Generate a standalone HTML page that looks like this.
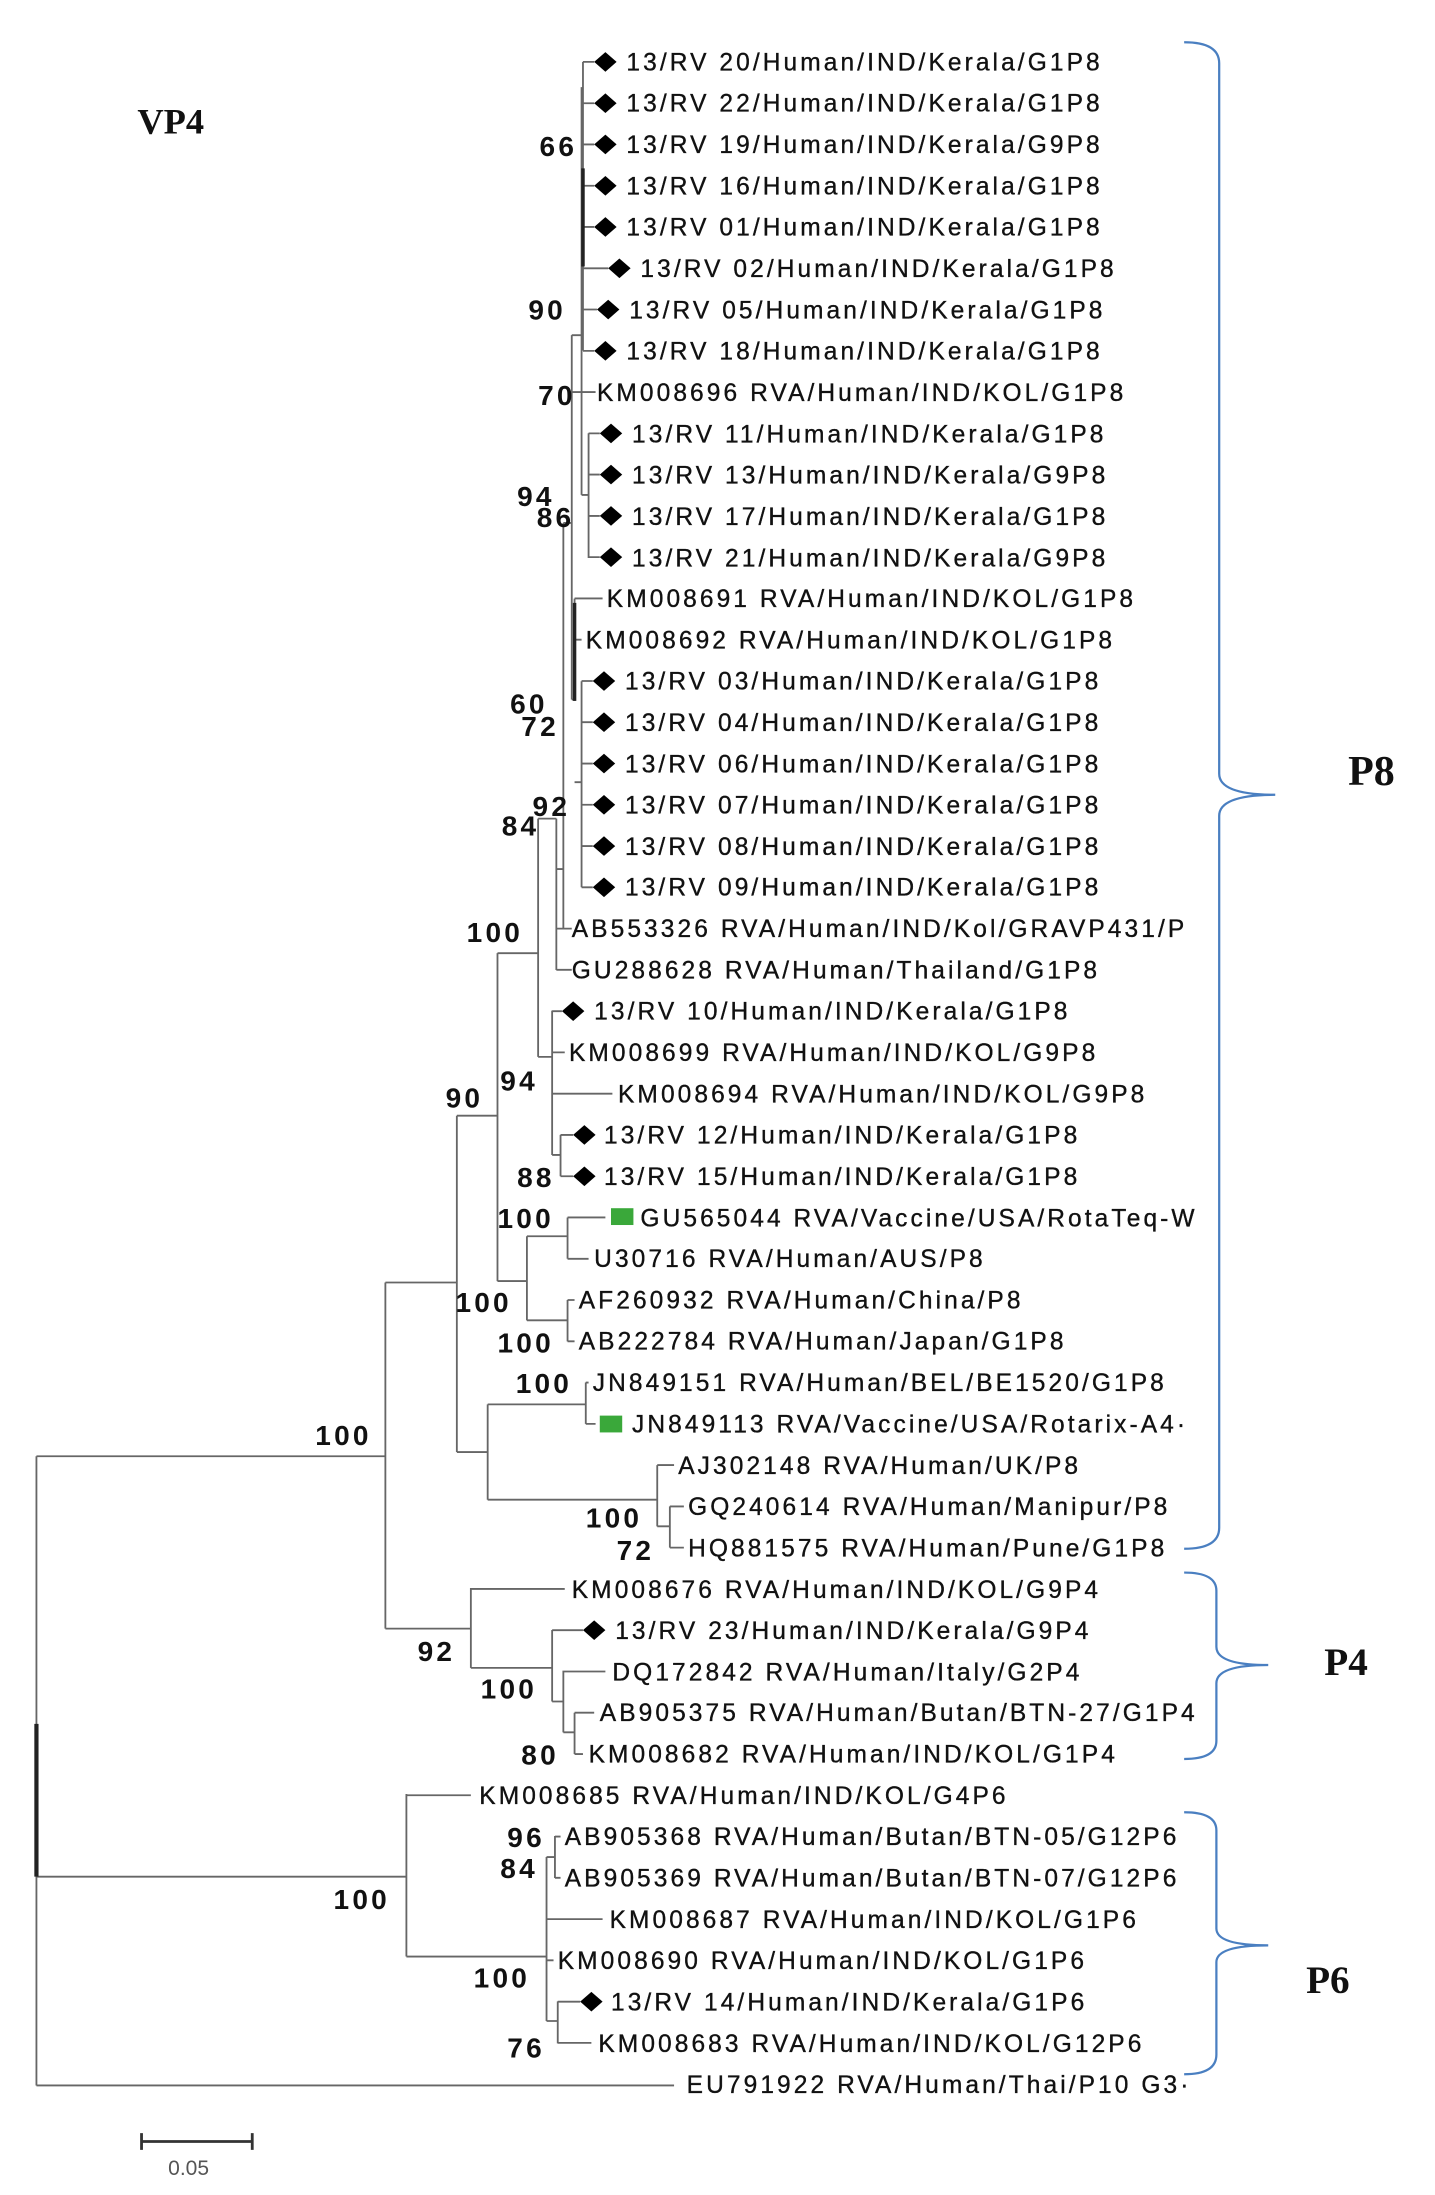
<!DOCTYPE html>
<html><head><meta charset="utf-8"><style>
html,body{margin:0;padding:0;background:#fff}
svg{display:block}
.t{font-family:"Liberation Sans",sans-serif;font-size:17.5px;letter-spacing:2.2px;fill:#111;stroke:#111;stroke-width:0.25}
.b{font-family:"Liberation Sans",sans-serif;font-size:20px;font-weight:bold;fill:#111;letter-spacing:2.3px}
.L{font-family:"Liberation Serif",serif;font-weight:bold;fill:#111}
</style></head><body>
<svg width="1435" height="2195" viewBox="0 0 1024 1566" xmlns="http://www.w3.org/2000/svg">
<defs><path id="d" d="M-8 0L0-7L8 0L0 7Z" fill="#000"/></defs>
<g stroke="#666" stroke-width="1.3" fill="none">
<path d="M26 1039V1488M26 1039H275M26 1339H290M26 1488H481"/>
<path d="M26 1230V1339" stroke="#222" stroke-width="3"/>
<path d="M275 915V1162M275 915H326M275 1162H336"/>
<path d="M326 796V1036M326 796H355M326 1036H348"/>
<path d="M355 680V914M355 680H384M355 914H376"/>
<path d="M376 882V942M376 882H405M376 942H405M405 868.6V898.1M405 868.6H432M405 898.1H420M405 927.5V957M405 927.5H410M405 957H410"/>
<path d="M348 1002V1070M348 1002H418M348 1070H469M418 986.4V1015.9M418 986.4H420M418 1015.9H425M469 1045.3V1089M469 1045.3H481M469 1089H478M478 1074.8V1104.2M478 1074.8H488M478 1104.2H488"/>
<path d="M384 584V754M384 584H397M384 754H394"/>
<path d="M397 584V692M397 662.5H408M397 691.9H408M397 620H402"/>
<path d="M402 373V663M402 373H408"/>
<path d="M408 239V499M408 239H415M408 279.6H425M408 499H410"/>
<path d="M415 62V353M415 353H420"/>
<path d="M416 44V250M416 44H424M416 73.5H424M416 102.9H424M416 132.4H424M416 161.8H424M416 191.3H434M416 220.7H426M416 250.2H424"/>
<path d="M416 120V190" stroke="#222" stroke-width="2.5"/>
<path d="M420 309V398M420 309.1H428M420 338.5H428M420 368H428M420 397.4H428"/>
<path d="M410 427V500M410 426.9H430M410 456.3H415M410 558H415"/>
<path d="M410 430V500" stroke="#222" stroke-width="2.5"/>
<path d="M415 486V633M415 485.8H423M415 515.2H423M415 544.7H423M415 574.1H423M415 603.6H423M415 633H423"/>
<path d="M394 721V824M394 721.4H401M394 750.8H403M394 780.3H437M394 824H400M400 809.7V839.2M400 809.7H409M400 839.2H409"/>
<path d="M336 1133V1190M336 1133.7H403M336 1190H394M394 1163V1214M394 1163.1H416M394 1214H402M402 1192V1236M402 1192.6H432M402 1236H410M410 1222V1251.5M410 1222H424M410 1251.5H416"/>
<path d="M290 1280V1396M290 1280.9H336M290 1396H390M390 1325V1442M390 1325H396M390 1398.7H395M390 1369.3H430M390 1442H398M396 1310V1340M396 1310.4H400M396 1339.8H400M398 1428V1458M398 1428.2H414M398 1457.6H422"/>
<path d="M101 1528H180M101 1522V1534M180 1522V1534" stroke="#333" stroke-width="2"/>
</g>
<g stroke="#4a7fc1" stroke-width="1.6" fill="none">
<path d="M845 30Q870 30 870 45V552Q870 567 910 567Q870 567 870 582V1090Q870 1105 845 1105"/>
<path d="M845 1122Q868 1122 868 1135V1175Q868 1188 905 1188Q868 1188 868 1201V1242Q868 1255 845 1255"/>
<path d="M845 1293Q868 1293 868 1306V1376Q868 1388 905 1388Q868 1388 868 1400V1466Q868 1480 845 1480"/>
</g>
<text class="L" x="98" y="95" font-size="26">VP4</text>
<text class="L" x="962" y="560" font-size="30">P8</text>
<text class="L" x="945" y="1195" font-size="28">P4</text>
<text class="L" x="932" y="1422" font-size="28">P6</text>
<text x="120" y="1552" font-family="Liberation Sans,sans-serif" font-size="15" fill="#555">0.05</text>
<use href="#d" x="432" y="44"/><use href="#d" x="432" y="73.5"/><use href="#d" x="432" y="102.9"/><use href="#d" x="432" y="132.4"/><use href="#d" x="432" y="161.8"/><use href="#d" x="442" y="191.3"/><use href="#d" x="434" y="220.7"/><use href="#d" x="432" y="250.2"/>
<use href="#d" x="436" y="309.1"/><use href="#d" x="436" y="338.5"/><use href="#d" x="436" y="368"/><use href="#d" x="436" y="397.4"/>
<use href="#d" x="431" y="485.8"/><use href="#d" x="431" y="515.2"/><use href="#d" x="431" y="544.7"/><use href="#d" x="431" y="574.1"/><use href="#d" x="431" y="603.6"/><use href="#d" x="431" y="633"/>
<use href="#d" x="409" y="721.4"/><use href="#d" x="417" y="809.7"/><use href="#d" x="417" y="839.2"/>
<use href="#d" x="424" y="1163.1"/><use href="#d" x="422" y="1428.2"/>
<rect x="436" y="862" width="16" height="12" fill="#3aa83a"/>
<rect x="428" y="1010" width="16" height="12" fill="#3aa83a"/>
<g class="t">
<text x="447" y="50">13/RV 20/Human/IND/Kerala/G1P8</text>
<text x="447" y="79.5">13/RV 22/Human/IND/Kerala/G1P8</text>
<text x="447" y="109">13/RV 19/Human/IND/Kerala/G9P8</text>
<text x="447" y="138.5">13/RV 16/Human/IND/Kerala/G1P8</text>
<text x="447" y="168">13/RV 01/Human/IND/Kerala/G1P8</text>
<text x="457" y="197.5">13/RV 02/Human/IND/Kerala/G1P8</text>
<text x="449" y="227">13/RV 05/Human/IND/Kerala/G1P8</text>
<text x="447" y="256.5">13/RV 18/Human/IND/Kerala/G1P8</text>
<text x="426" y="286">KM008696 RVA/Human/IND/KOL/G1P8</text>
<text x="451" y="315.5">13/RV 11/Human/IND/Kerala/G1P8</text>
<text x="451" y="345">13/RV 13/Human/IND/Kerala/G9P8</text>
<text x="451" y="374.5">13/RV 17/Human/IND/Kerala/G1P8</text>
<text x="451" y="404">13/RV 21/Human/IND/Kerala/G9P8</text>
<text x="433" y="433">KM008691 RVA/Human/IND/KOL/G1P8</text>
<text x="418" y="462.5">KM008692 RVA/Human/IND/KOL/G1P8</text>
<text x="446" y="492">13/RV 03/Human/IND/Kerala/G1P8</text>
<text x="446" y="521.5">13/RV 04/Human/IND/Kerala/G1P8</text>
<text x="446" y="551">13/RV 06/Human/IND/Kerala/G1P8</text>
<text x="446" y="580.5">13/RV 07/Human/IND/Kerala/G1P8</text>
<text x="446" y="610">13/RV 08/Human/IND/Kerala/G1P8</text>
<text x="446" y="639">13/RV 09/Human/IND/Kerala/G1P8</text>
<text x="408" y="668.5">AB553326 RVA/Human/IND/Kol/GRAVP431/P</text>
<text x="408" y="698">GU288628 RVA/Human/Thailand/G1P8</text>
<text x="424" y="727.5">13/RV 10/Human/IND/Kerala/G1P8</text>
<text x="406" y="757">KM008699 RVA/Human/IND/KOL/G9P8</text>
<text x="441" y="786.5">KM008694 RVA/Human/IND/KOL/G9P8</text>
<text x="431" y="816">13/RV 12/Human/IND/Kerala/G1P8</text>
<text x="431" y="845.5">13/RV 15/Human/IND/Kerala/G1P8</text>
<text x="457" y="875">GU565044 RVA/Vaccine/USA/RotaTeq-W</text>
<text x="424" y="904">U30716 RVA/Human/AUS/P8</text>
<text x="413" y="933.5">AF260932 RVA/Human/China/P8</text>
<text x="413" y="963">AB222784 RVA/Human/Japan/G1P8</text>
<text x="423" y="992.5">JN849151 RVA/Human/BEL/BE1520/G1P8</text>
<text x="451" y="1022">JN849113 RVA/Vaccine/USA/Rotarix-A4·</text>
<text x="484" y="1051.5">AJ302148 RVA/Human/UK/P8</text>
<text x="491" y="1081">GQ240614 RVA/Human/Manipur/P8</text>
<text x="491" y="1110.5">HQ881575 RVA/Human/Pune/G1P8</text>
<text x="408" y="1140">KM008676 RVA/Human/IND/KOL/G9P4</text>
<text x="439" y="1169.5">13/RV 23/Human/IND/Kerala/G9P4</text>
<text x="437" y="1199">DQ172842 RVA/Human/Italy/G2P4</text>
<text x="428" y="1228">AB905375 RVA/Human/Butan/BTN-27/G1P4</text>
<text x="420" y="1257.5">KM008682 RVA/Human/IND/KOL/G1P4</text>
<text x="342" y="1287">KM008685 RVA/Human/IND/KOL/G4P6</text>
<text x="403" y="1316.5">AB905368 RVA/Human/Butan/BTN-05/G12P6</text>
<text x="403" y="1346">AB905369 RVA/Human/Butan/BTN-07/G12P6</text>
<text x="435" y="1375.5">KM008687 RVA/Human/IND/KOL/G1P6</text>
<text x="398" y="1405">KM008690 RVA/Human/IND/KOL/G1P6</text>
<text x="436" y="1434.5">13/RV 14/Human/IND/Kerala/G1P6</text>
<text x="427" y="1464">KM008683 RVA/Human/IND/KOL/G12P6</text>
<text x="490" y="1493.5">EU791922 RVA/Human/Thai/P10 G3·</text>
</g>
<g class="b">
<text x="385" y="111">66</text>
<text x="377" y="228">90</text>
<text x="384" y="289">70</text>
<text x="369" y="361">94</text>
<text x="383" y="376">86</text>
<text x="364" y="509">60</text>
<text x="372" y="525">72</text>
<text x="380" y="582">92</text>
<text x="358" y="596">84</text>
<text x="333" y="672">100</text>
<text x="357" y="778">94</text>
<text x="318" y="790">90</text>
<text x="369" y="847">88</text>
<text x="355" y="876">100</text>
<text x="325" y="936">100</text>
<text x="355" y="965">100</text>
<text x="368" y="994">100</text>
<text x="225" y="1031">100</text>
<text x="418" y="1090">100</text>
<text x="440" y="1113">72</text>
<text x="298" y="1185">92</text>
<text x="343" y="1212">100</text>
<text x="372" y="1259">80</text>
<text x="362" y="1318">96</text>
<text x="357" y="1340">84</text>
<text x="238" y="1362">100</text>
<text x="338" y="1418">100</text>
<text x="362" y="1468">76</text>
</g>
</svg>
</body></html>
